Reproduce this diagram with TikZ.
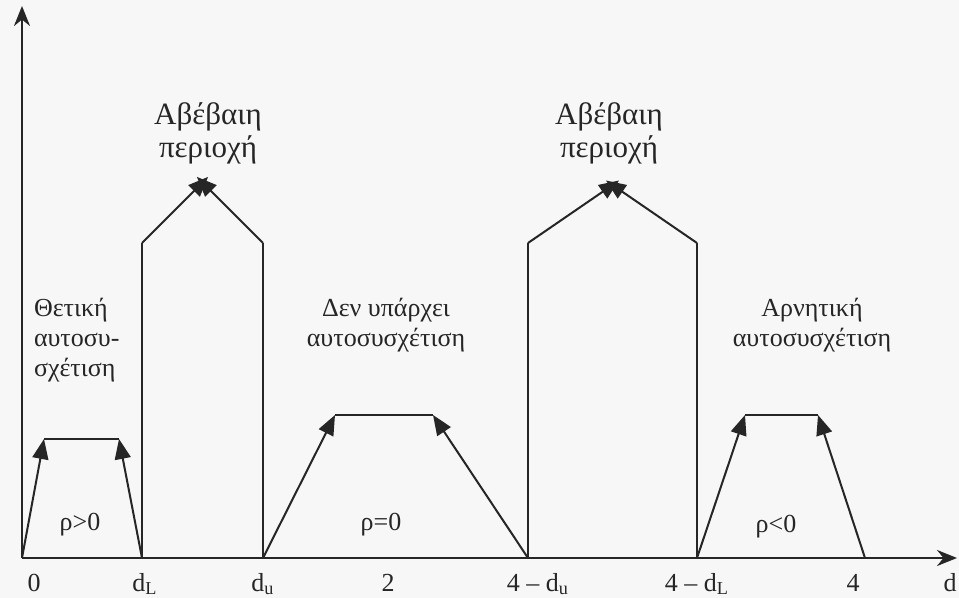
\documentclass[tikz,border=0pt]{standalone}
\usepackage{fontspec}
\setmainfont{Liberation Serif}
\usetikzlibrary{arrows.meta}

\begin{document}
\begin{tikzpicture}[x=0.5pt, y=-0.5pt, line width=1pt, color=black!85,
        arr/.style={-{Triangle[length=10pt,width=8pt]}},
        small/.style={font=\fontsize{13}{15}\selectfont, align=center, inner sep=0pt},
        big/.style={font=\fontsize{15.5}{16.5}\selectfont, align=center, inner sep=0pt}]
        \useasboundingbox[fill=black!3](0,0)rectangle(959,598);
        % axis
        \coordinate(O)at(22,558);
        \coordinate(X)at(957,558);
        \coordinate(Y)at(22,6);
        \path[draw, line width=1.3pt, -{Stealth[length=10pt,width=8pt]}](O)to(X);
        \path[draw, line width=1.3pt, -{Stealth[length=10pt,width=8pt]}](O)to(Y);
        % points on d
        \foreach \n/\x in {dL/142, du/263, mdu/528, mdL/697, four/865}
        {
            \coordinate(\n)at(\x,558);
        }
        \foreach \n/\x/\t in {zero/34/0, dL/145/d\textsubscript{L}, du/263/d\textsubscript{u}, two/388/2,
            mdu/538/4 -- d\textsubscript{u}, mdL/697/4 -- d\textsubscript{L}, four/853/4, d/950/d}
        {
            \node[small, anchor=base](t\n)at(\x,591){\t};
        }
        % uncertain regions
        \coordinate(dLtop)at(142,243);
        \coordinate(dutop)at(263,243);
        \coordinate(mdutop)at(528,243);
        \coordinate(mdLtop)at(697,243);
        \coordinate(peakA)at(202.5,182.5);
        \coordinate(peakB)at(612.5,185);
        \path[draw](dL)to(dLtop);
        \path[draw](du)to(dutop);
        \path[draw](mdu)to(mdutop);
        \path[draw](mdL)to(mdLtop);
        \path[draw, arr, shorten >=-4pt](dLtop)to(peakA);
        \path[draw, arr, shorten >=-4pt](dutop)to(peakA);
        \path[draw, arr, shorten >=-4pt](mdutop)to(peakB);
        \path[draw, arr, shorten >=-4pt](mdLtop)to(peakB);
        \node[big](uncA)at(208,133){Αβέβαιη\\περιοχή};
        \node[big](uncB)at(609,133){Αβέβαιη\\περιοχή};
        % trapezoids
        \coordinate(posl)at(44,439);
        \coordinate(posr)at(119,439);
        \coordinate(nonl)at(335,415);
        \coordinate(nonr)at(433,415);
        \coordinate(negl)at(745,415);
        \coordinate(negr)at(818,415);
        \path[draw, arr](O)to(posl);
        \path[draw](posl)to(posr);
        \path[draw, arr](dL)to(posr);
        \path[draw, arr](du)to(nonl);
        \path[draw](nonl)to(nonr);
        \path[draw, arr](mdu)to(nonr);
        \path[draw, arr](mdL)to(negl);
        \path[draw](negl)to(negr);
        \path[draw, arr](four)to(negr);
        % texts
        \node[small, align=left, anchor=north west](pos)at(33,297){Θετική\\αυτοσυ-\\σχέτιση};
        \node[small](non)at(386,325){Δεν υπάρχει\\αυτοσυσχέτιση};
        \node[small](neg)at(812,325){Αρνητική\\αυτοσυσχέτιση};
        \node[small](rpos)at(80,525){ρ>0};
        \node[small](rnon)at(381,525){ρ=0};
        \node[small](rneg)at(776,527){ρ<0};
    \end{tikzpicture}
\end{document}
